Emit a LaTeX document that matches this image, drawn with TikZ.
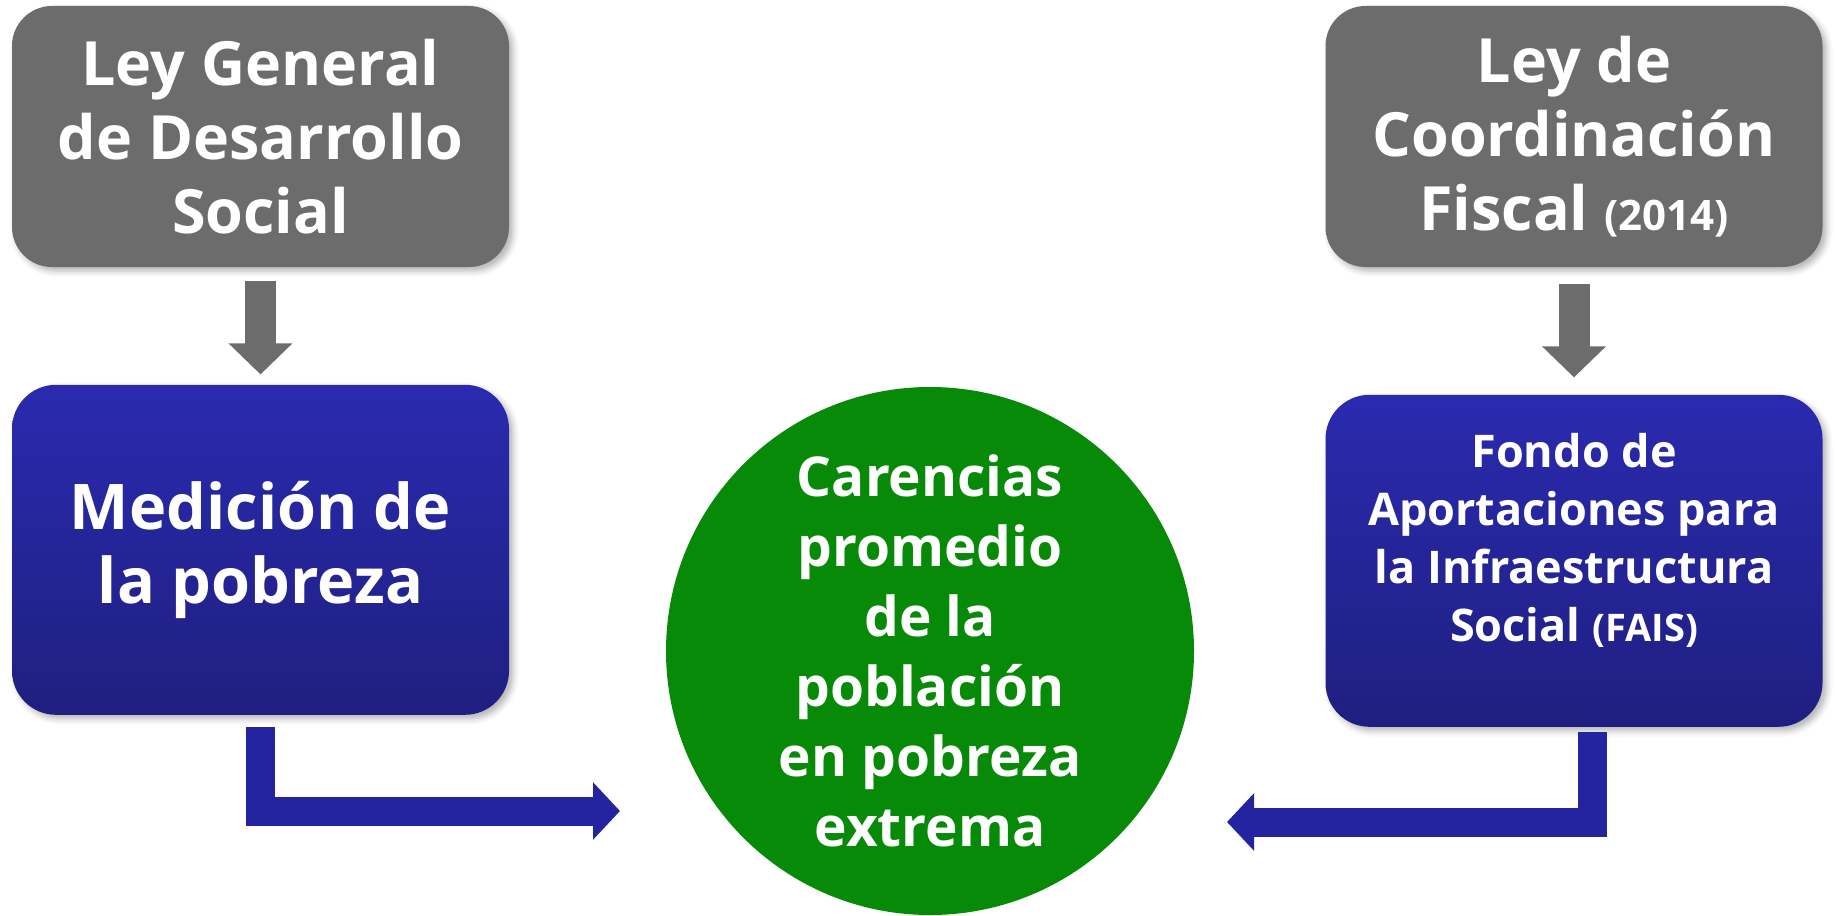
\documentclass[tikz,border=0pt]{standalone}
\usepackage{fontspec}
\setmainfont{Open Sans}
\usetikzlibrary{positioning, arrows.meta, shadows.blur, calc}

\definecolor{leygray}{HTML}{6C6C6C}
\definecolor{bluetop}{HTML}{2A2AB0}
\definecolor{bluebot}{HTML}{1F1F80}
\definecolor{arrowblue}{HTML}{2424A0}
\definecolor{cargreen}{HTML}{078A07}

\tikzset{
  softshadow/.style={blur shadow={shadow xshift=2pt, shadow yshift=-2pt, shadow blur radius=3pt, shadow opacity=30}},
  leybox/.style={rounded corners=20pt, fill=leygray, text=white, minimum width=248.5pt, minimum height=130.5pt, align=center, inner sep=0pt, font=\bfseries\fontsize{30.5}{37}\selectfont, softshadow},
  bluebox/.style={rounded corners=22pt, top color=bluetop, bottom color=bluebot, draw=none, text=white, minimum width=248.5pt, align=center, inner sep=0pt, softshadow},
  grayarrow/.style={draw=leygray, line width=15.5pt, -{Triangle[width=31pt,length=15.5pt]}},
  blueconn/.style={draw=arrowblue, line width=14.5pt, line join=miter, -{Triangle[width=28pt,length=13.5pt]}}
}

\begin{document}
\begin{tikzpicture}[x=0.5pt, y=-0.5pt]
  \useasboundingbox (0,0) rectangle (1835,915);

  % leyes
  \node (ley1) [leybox] at (260.5,136.5) {Ley General\\de Desarrollo\\Social};
  \node (ley2) [leybox] at (1574,136.5) {Ley de\\Coordinación\\Fiscal {\fontsize{21}{24}\selectfont (2014)}};

  % cajas azules
  \node (med) [bluebox, minimum height=165pt, font=\bfseries\fontsize{31.5}{37}\selectfont, below=58.5pt of ley1] {Medición de\\la pobreza};
  \node (fais) [bluebox, minimum height=166pt, below=63.5pt of ley2] {};
  \node (faistext) [text=white, align=center, font=\bfseries\fontsize{22.5}{29}\selectfont] at ($(fais.center)+(0,-20)$)
    {Fondo de\\Aportaciones para\\la Infraestructura\\Social {\fontsize{19}{22}\selectfont (FAIS)}};

  % circulo
  \node (car) [circle, fill=cargreen, minimum size=264pt, inner sep=0pt, text=white, align=center,
    font=\bfseries\fontsize{27.5}{35}\selectfont] at (930,651)
    {Carencias\\promedio\\de la\\población\\en pobreza\\extrema};

  \coordinate (inL) at ($(car.center)+(-310,160)$);
  \coordinate (inR) at ($(car.center)+(297,171)$);

  \draw[grayarrow] ([yshift=-7pt]ley1.south) -- ([yshift=5pt]med.north);
  \draw[grayarrow] ([yshift=-8.5pt]ley2.south) -- ([yshift=8.5pt]fais.north);
  \draw[blueconn] ([yshift=-6pt]med.south) |- (inL);
  \draw[blueconn] ([xshift=9pt,yshift=-2.5pt]fais.south) |- (inR);
\end{tikzpicture}
\end{document}
